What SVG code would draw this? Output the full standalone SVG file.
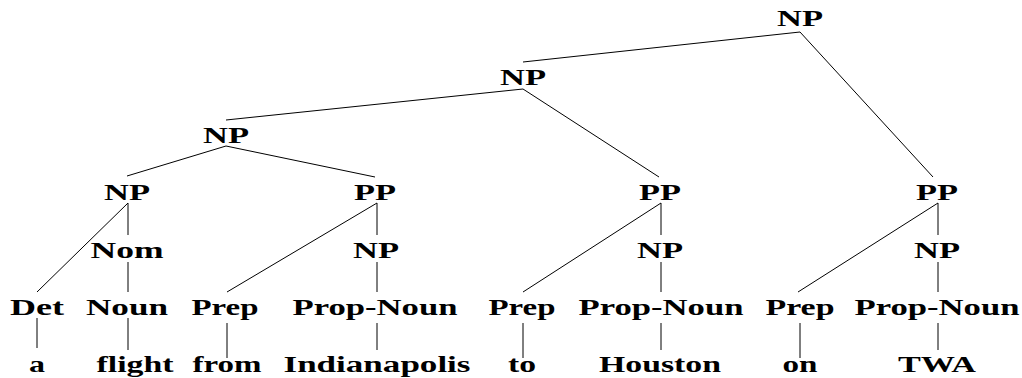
<svg xmlns="http://www.w3.org/2000/svg" width="1022" height="378" viewBox="0 0 1022 378">
<style>
text{font-family:"Liberation Serif","Times New Roman",serif;font-weight:bold;font-size:24px;fill:#000;text-anchor:middle}
.e line{stroke:#000;stroke-width:1}
</style>
<rect width="1022" height="378" fill="#fff"/>
<g class="e" id="edges">
<line x1="800" y1="32" x2="523" y2="62"/>
<line x1="800" y1="32" x2="933" y2="177"/>
<line x1="523" y1="89" x2="226" y2="120"/>
<line x1="523" y1="89" x2="659" y2="177"/>
<line x1="226" y1="146" x2="127" y2="176"/>
<line x1="226" y1="146" x2="375" y2="177"/>
<line x1="128" y1="203" x2="37" y2="292"/>
<line x1="128" y1="203" x2="128" y2="235"/>
<line x1="128" y1="262" x2="128" y2="292"/>
<line x1="37" y1="318" x2="37" y2="348"/>
<line x1="128" y1="318" x2="128" y2="350"/>
<line x1="377" y1="203" x2="227" y2="292"/>
<line x1="377" y1="203" x2="377" y2="235"/>
<line x1="377" y1="262" x2="377" y2="292"/>
<line x1="227" y1="323" x2="227" y2="358"/>
<line x1="377" y1="323" x2="377" y2="350"/>
<line x1="661" y1="203" x2="523" y2="292"/>
<line x1="661" y1="203" x2="661" y2="235"/>
<line x1="661" y1="262" x2="661" y2="292"/>
<line x1="523" y1="323" x2="523" y2="358"/>
<line x1="661" y1="323" x2="661" y2="350"/>
<line x1="938" y1="203" x2="798" y2="292"/>
<line x1="938" y1="203" x2="938" y2="235"/>
<line x1="938" y1="262" x2="938" y2="292"/>
<line x1="800" y1="323" x2="800" y2="358"/>
<line x1="938" y1="323" x2="938" y2="350"/>
</g>
<g id="np1"><text x="800" y="26" textLength="46" lengthAdjust="spacingAndGlyphs">NP</text></g>
<g id="np2"><text x="523" y="85" textLength="46" lengthAdjust="spacingAndGlyphs">NP</text></g>
<g id="np3"><text x="226" y="143" textLength="46" lengthAdjust="spacingAndGlyphs">NP</text></g>
<g id="np4"><text x="127" y="200" textLength="46" lengthAdjust="spacingAndGlyphs">NP</text></g>
<g id="pp1"><text x="375" y="200" textLength="42" lengthAdjust="spacingAndGlyphs">PP</text></g>
<g id="pp2"><text x="660" y="200" textLength="42" lengthAdjust="spacingAndGlyphs">PP</text></g>
<g id="pp3"><text x="937" y="200" textLength="42" lengthAdjust="spacingAndGlyphs">PP</text></g>
<g id="nom"><text x="127" y="258" textLength="73" lengthAdjust="spacingAndGlyphs">Nom</text></g>
<g id="np5"><text x="376" y="258" textLength="46" lengthAdjust="spacingAndGlyphs">NP</text></g>
<g id="np6"><text x="660" y="258" textLength="46" lengthAdjust="spacingAndGlyphs">NP</text></g>
<g id="np7"><text x="937" y="258" textLength="46" lengthAdjust="spacingAndGlyphs">NP</text></g>
<g id="det"><text x="37" y="315" textLength="54" lengthAdjust="spacingAndGlyphs">Det</text></g>
<g id="noun"><text x="127" y="315" textLength="82" lengthAdjust="spacingAndGlyphs">Noun</text></g>
<g id="prep1"><text x="225" y="315" textLength="67" lengthAdjust="spacingAndGlyphs">Prep</text></g>
<g id="pn1"><text x="375" y="315" textLength="165" lengthAdjust="spacingAndGlyphs">Prop-Noun</text></g>
<g id="prep2"><text x="522" y="315" textLength="67" lengthAdjust="spacingAndGlyphs">Prep</text></g>
<g id="pn2"><text x="661" y="315" textLength="165" lengthAdjust="spacingAndGlyphs">Prop-Noun</text></g>
<g id="prep3"><text x="800" y="315" textLength="69" lengthAdjust="spacingAndGlyphs">Prep</text></g>
<g id="pn3"><text x="937" y="315" textLength="165" lengthAdjust="spacingAndGlyphs">Prop-Noun</text></g>
<g id="w1"><text x="37" y="372" textLength="16" lengthAdjust="spacingAndGlyphs">a</text></g>
<g id="w2"><text x="135" y="372" textLength="77" lengthAdjust="spacingAndGlyphs">flight</text></g>
<g id="w3"><text x="227" y="372" textLength="69" lengthAdjust="spacingAndGlyphs">from</text></g>
<g id="w4"><text x="377" y="372" textLength="187" lengthAdjust="spacingAndGlyphs">Indianapolis</text></g>
<g id="w5"><text x="522" y="372" textLength="28" lengthAdjust="spacingAndGlyphs">to</text></g>
<g id="w6"><text x="660" y="372" textLength="122" lengthAdjust="spacingAndGlyphs">Houston</text></g>
<g id="w7"><text x="800" y="372" textLength="35" lengthAdjust="spacingAndGlyphs">on</text></g>
<g id="w8"><text x="937" y="372" textLength="78" lengthAdjust="spacingAndGlyphs">TWA</text></g>
</svg>
